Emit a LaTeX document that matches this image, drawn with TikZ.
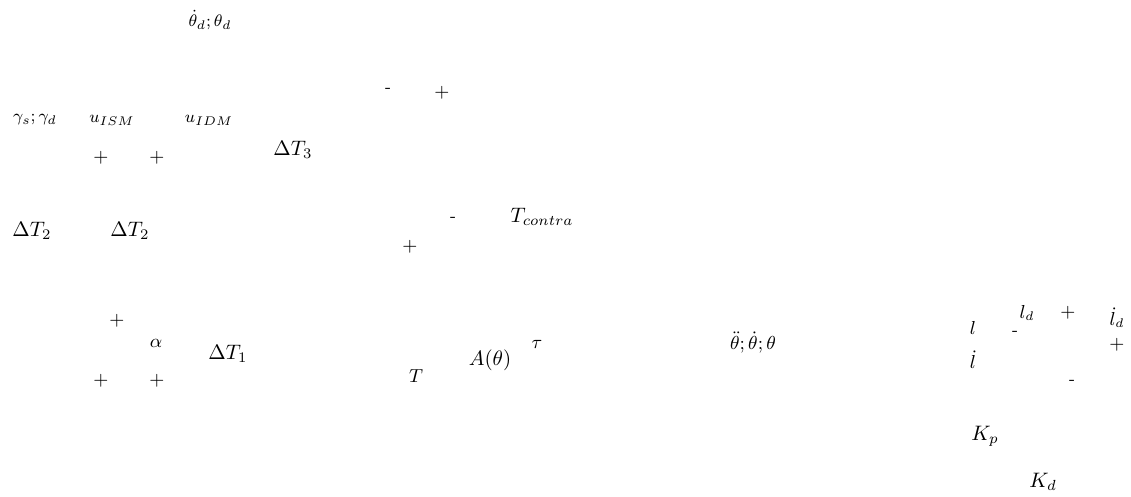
\documentclass[tikz,border=0pt]{standalone}
\usepackage{amsmath}
\usepackage{amssymb}
\usepackage{tikz}
\usetikzlibrary{
  positioning,
  calc
}
\tikzset{
  sig/.style={
    inner sep=0pt,
    font=\normalsize
  },
  smallsig/.style={sig,font=\small},
  tinysig/.style={sig,font=\footnotesize},
  plussign/.style={sig,font=\small},
  minussign/.style={sig,font=\footnotesize}
}

\begin{document}
\begin{tikzpicture}[x=0.0168cm,y=-0.0168cm]
  \useasboundingbox (0,0) rectangle (1131,496);

  % reference inputs
  \node[tinysig] (thref) at (210,20) {$\dot{\theta}_d;\theta_d$};
  \node[tinysig] (gam) at (35,120) {$\gamma_s;\gamma_d$};
  \node[tinysig] (uism) at (112,120) {$u_{ISM}$};
  \node[tinysig] (uidm) at (209,120) {$u_{IDM}$};

  % summing signs
  \node[minussign] (m1) at (388,90) {-};
  \node[plussign] (p1) at (442,93) {$+$};
  \node[plussign] (p2) at (101,158) {$+$};
  \node[plussign] (p3) at (157,158) {$+$};
  \node[minussign] (m2) at (453,219) {-};
  \node[plussign] (p4) at (410,247) {$+$};
  \node[plussign] (p5) at (117,321) {$+$};
  \node[plussign] (p6) at (101,381) {$+$};
  \node[plussign] (p7) at (157,381) {$+$};

  % torque terms
  \node[sig] (dt3) at (293,150) {$\Delta T_3$};
  \node[sig] (dt2a) at (32,231) {$\Delta T_2$};
  \node[sig] (dt2b) at (130,231) {$\Delta T_2$};
  \node[sig] (tcon) at (542,217) {$T_{contra}$};
  \node[smallsig] (alp) at (156,343) {$\alpha$};
  \node[sig] (dt1) at (228,354) {$\Delta T_1$};
  \node[smallsig] (tq) at (416,376) {$T$};
  \node[sig] (amat) at (490,360) {$A(\theta)$};
  \node[smallsig] (tau) at (537,344) {$\tau$};
  \node[smallsig] (thout) at (753,343) {$\ddot{\theta};\dot{\theta};\theta$};

  % muscle length loop
  \node[smallsig] (len) at (973,328) {$l$};
  \node[smallsig] (lend) at (1027,313) {$l_d$};
  \node[plussign] (p8) at (1068,313) {$+$};
  \node[smallsig] (vend) at (1117,318) {$\dot{l}_d$};
  \node[minussign] (m3) at (1015,333) {-};
  \node[plussign] (p9) at (1117,345) {$+$};
  \node[smallsig] (vel) at (973,360) {$\dot{l}$};
  \node[minussign] (m4) at (1072,382) {-};
  \node[sig] (kp) at (985,436) {$K_p$};
  \node[sig] (kd) at (1043,482) {$K_d$};
\end{tikzpicture}
\end{document}
